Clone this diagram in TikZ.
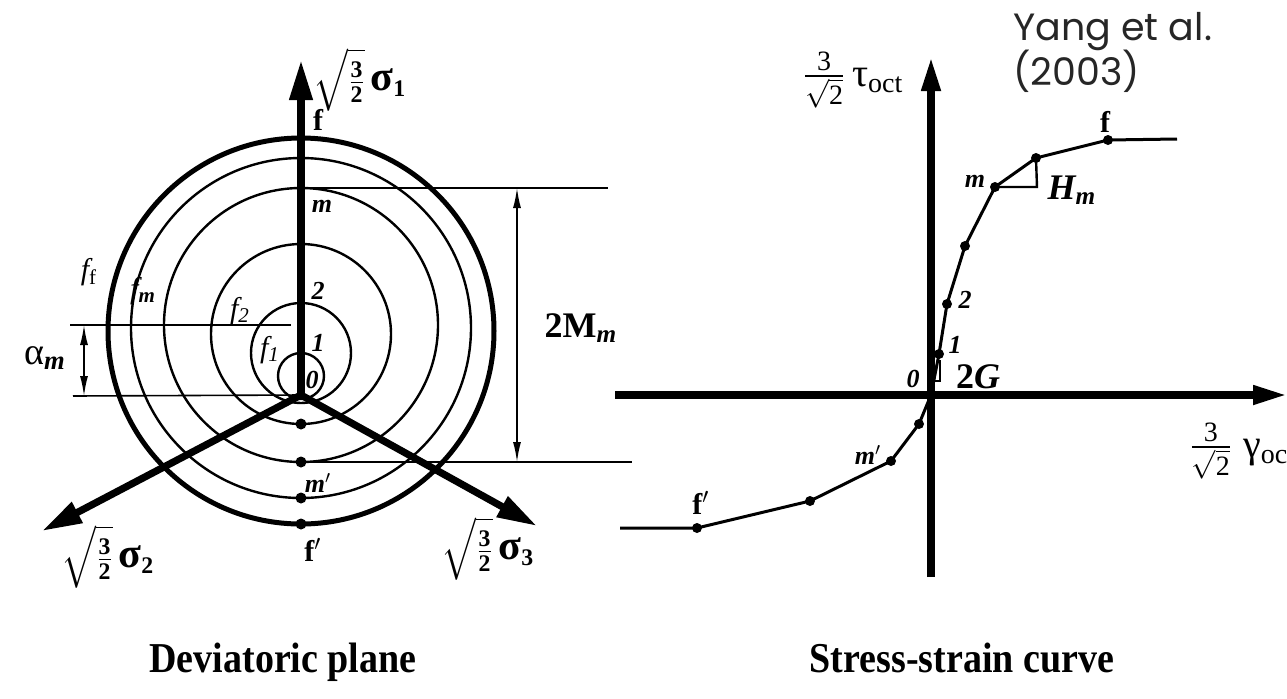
\documentclass[tikz,border=0pt]{standalone}
\usepackage{amsmath}
\usepackage{graphicx}
\usepackage{fontspec}
\setmainfont{Liberation Serif}
\newfontfamily\yangfont{Poppins}
\usetikzlibrary{arrows.meta}
\newcommand{\bigsig}{{\fontsize{21}{21}\selectfont σ}}
\newcommand{\sqfrac}{$\sqrt{\tfrac{\text{3}}{\text{2}}}$}
\newcommand{\invfrac}{$\tfrac{\text{3}}{\sqrt{\text{2}}}$}
\begin{document}
\begin{tikzpicture}[x=0.5pt,y=-0.5pt,
  axis/.style={line width=3.6pt},
  axisL/.style={axis,-{Triangle[length=20pt,width=11pt]}},
  axisR/.style={axis,-{Triangle[length=17pt,width=9pt]}},
  thinc/.style={line width=1.2pt},
  thickc/.style={line width=2.5pt},
  dimline/.style={line width=0.8pt},
  dimarrow/.style={line width=0.8pt,{Latex[length=10pt,width=4pt]}-{Latex[length=10pt,width=4pt]}},
  crv/.style={line width=1.5pt},
  dotn/.style={circle,fill,inner sep=0pt,minimum size=5.5pt},
  lab/.style={inner sep=0pt},
  ptlab/.style={lab,font=\bfseries\itshape\fontsize{13}{13}\selectfont},
  flab/.style={lab,font=\bfseries\fontsize{15}{15}\selectfont},
  surf/.style={lab,font=\itshape\fontsize{15}{15}\selectfont},
  biglab/.style={lab,font=\bfseries\fontsize{18}{18}\selectfont},
  axlab/.style={lab,font=\bfseries\fontsize{17}{17}\selectfont},
  axlabR/.style={lab,font=\fontsize{20}{20}\selectfont},
  title/.style={lab,font=\bfseries\fontsize{19}{19}\selectfont}]
\useasboundingbox (0,0) rectangle (1287,698);

% ---------------- Deviatoric plane ----------------
\coordinate (O) at (301,395);
\coordinate (s1) at (301,60);
\coordinate (s2) at (42,531);
\coordinate (s3) at (537,526);

\coordinate (c0) at (301,376);
\coordinate (c1) at (301,353);
\coordinate (c2) at (301,334);
\coordinate (cm) at (301,325);
\coordinate (cfm) at (301,328);
\coordinate (cff) at (301,331);

\draw[thinc] (c0) circle[radius=11.5pt];
\draw[thinc] (c1) circle[radius=25pt];
\draw[thinc] (c2) circle[radius=45pt];
\draw[thinc] (cm) circle[radius=68.5pt];
\draw[thinc] (cfm) circle[radius=85pt];
\draw[thickc] (cff) circle[radius=96.5pt];

% dimension lines
\coordinate (aT1) at (70,325);
\coordinate (aT2) at (291,325);
\coordinate (aB1) at (73,396);
\coordinate (aA1) at (84,325);
\coordinate (aA2) at (84,396);
\draw[dimline] (aT1) -- (aT2);
\draw[dimline] (aB1) -- (O);
\draw[dimarrow] (aA2) -- (aA1);

\coordinate (mT1) at (301,188);
\coordinate (mT2) at (608,188);
\coordinate (mB1) at (301,462);
\coordinate (mB2) at (632,462);
\coordinate (mA1) at (517,188);
\coordinate (mA2) at (517,462);
\draw[dimline] (mT1) -- (mT2);
\draw[dimline] (mB1) -- (mB2);
\draw[dimarrow] (mA1) -- (mA2);

% axes
\draw[axisL] (O) -- (s1);
\draw[axisL] (O) -- (s2);
\draw[axisL] (O) -- (s3);
\fill (O) circle[radius=2pt];

% dots
\node[dotn] (d2) at (301,424) {};
\node[dotn] (dm) at (301,462) {};
\node[dotn] (dfm) at (301,498) {};
\node[dotn] (dff) at (301,524) {};

% labels
\node[axlab] (ls1) at (360,80) {\sqfrac\,\bigsig$_{\text{1}}$};
\node[axlab] (ls2) at (108,557) {\sqfrac\,\bigsig$_{\text{2}}$};
\node[axlab] (ls3) at (488,549) {\sqfrac\,\bigsig$_{\text{3}}$};
\node[flab] (lf) at (318,120) {f};
\node[ptlab] (lm) at (322,206) {m};
\node[ptlab] (l2) at (318,291) {2};
\node[ptlab] (l1) at (318,343) {1};
\node[ptlab] (l0) at (312,380) {0};
\node[ptlab] (lmp) at (318,483) {m$'$};
\node[flab] (lfp) at (313,550) {f$'$};
\node[surf] (lff) at (89,272) {f$_{\text{\upshape f}}$};
\node[surf] (lfm) at (143,291) {f$_{\text{\bfseries m}}$};
\node[surf] (lf2) at (240,311) {f$_{\text{2}}$};
\node[surf] (lf1) at (270,350) {f$_{\text{1}}$};
\node[lab,font=\fontsize{19}{19}\selectfont] (lam) at (45,358) {α$_{\text{\bfseries\itshape m}}$};
\node[biglab] (l2M) at (581,328) {2M$_{\text{\itshape m}}$};

% ---------------- Stress-strain curve ----------------
\coordinate (R0) at (931,395);
\coordinate (hL) at (615,395);
\coordinate (hR) at (1287,395);
\coordinate (vB) at (931,577);
\coordinate (vT) at (931,57);
\draw[axisR] (hL) -- (hR);
\draw[axisR] (vB) -- (vT);

\coordinate (q1) at (939,354);
\coordinate (q2) at (947,304);
\coordinate (q3) at (965,246);
\coordinate (qm) at (995,187);
\coordinate (q5) at (1036,158);
\coordinate (qf) at (1108,140);
\coordinate (qe) at (1177,139);
\coordinate (n1) at (919,424);
\coordinate (nm) at (891,461);
\coordinate (n3) at (810,501);
\coordinate (nf) at (697,528);
\coordinate (ne) at (620,528);
\draw[crv,line join=round] (ne) -- (nf) -- (n3) -- (nm) -- (n1) -- (R0) -- (q1) -- (q2) -- (q3) -- (qm) -- (q5) -- (qf) -- (qe);

\coordinate (hc) at (1037,187);
\draw[thinc] (qm) -- (hc) -- (q5);
\coordinate (g1) at (935,381);
\coordinate (g2) at (940,381);
\coordinate (g3) at (940,360);
\draw[line width=0.8pt] (g1) -- (g2) -- (g3);

\foreach \p in {q1,q2,q3,qm,q5,qf,n1,nm,n3,nf}
  \node[dotn,minimum size=5pt] (dot\p) at (\p) {};

\node[axlabR] (ltau) at (853,80) {\invfrac\,τ$_{\text{oct}}$};
\node[axlabR,anchor=west] (lgam) at (1189,451) {\invfrac\;γ$_{\text{oct}}$};
\node[flab] (rf) at (1105,122) {f};
\node[ptlab] (rm) at (975,181) {m};
\node[biglab,font=\bfseries\itshape\fontsize{18}{18}\selectfont] (rH) at (1072,190) {H$_{\text{m}}$};
\node[ptlab] (r2) at (965,300) {2};
\node[ptlab] (r1) at (955,345) {1};
\node[ptlab] (r0) at (913,379) {0};
\node[biglab] (r2G) at (978,377) {2\textit{G}};
\node[ptlab] (rmp) at (868,455) {m$'$};
\node[flab] (rfp) at (701,503) {f$'$};

\node[lab,anchor=base west,font=\yangfont\fontsize{19}{19}\selectfont,text=black!85] (y1) at (1013,40) {Yang et al.};
\node[lab,anchor=base west,font=\yangfont\fontsize{19}{19}\selectfont,text=black!85] (y2) at (1013,85) {(2003)};

\node[title,anchor=base] (t1) at (283,672) {\scalebox{1}[1.12]{Deviatoric plane}};
\node[title,anchor=base] (t2) at (962,672) {\scalebox{1}[1.12]{Stress-strain curve}};
\end{tikzpicture}
\end{document}
